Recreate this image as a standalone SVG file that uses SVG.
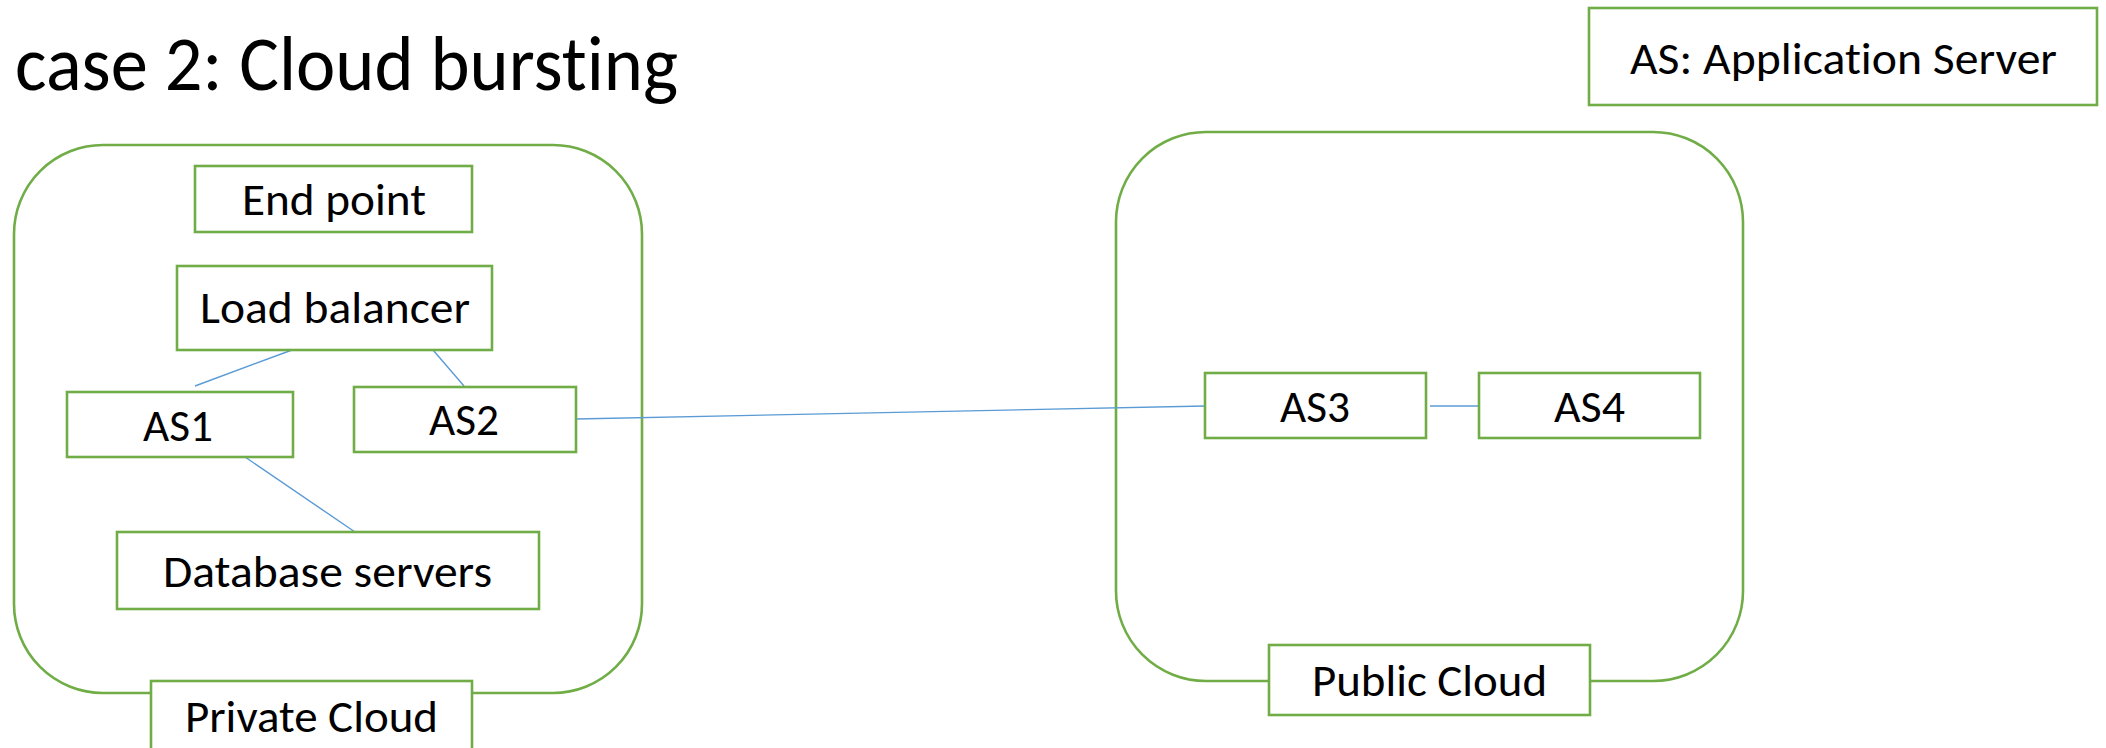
<svg xmlns="http://www.w3.org/2000/svg" width="2106" height="748" viewBox="0 0 2106 748">
  <style>
    .box { fill: #ffffff; stroke: #70ad47; stroke-width: 2.6; }
    .cloud { fill: none; stroke: #70ad47; stroke-width: 2.6; }
    .lbl { font-family: "Carlito", "Liberation Sans", Arial, sans-serif; font-size: 46px; fill: #000000; font-variant-ligatures: none; font-feature-settings: "liga" 0, "clig" 0; }
    .link { stroke: #5b9bd5; stroke-width: 1.4; fill: none; }
  </style>

  <rect width="2106" height="748" fill="#ffffff"/>

  <!-- heading -->
  <text id="title" x="15" y="90" class="lbl" style="font-size:78px" textLength="663" lengthAdjust="spacingAndGlyphs">case 2: Cloud bursting</text>

  <!-- legend -->
  <g id="legend">
    <rect class="box" x="1589" y="8" width="508" height="97"/>
    <text class="lbl" x="1630" y="74" textLength="427" lengthAdjust="spacingAndGlyphs">AS: Application Server</text>
  </g>

  <!-- cloud containers -->
  <g id="private-cloud-frame">
    <path class="cloud" d="M103,145 H553 A89,89 0 0 1 642,234 V604 A89,89 0 0 1 553,693 H103 A89,89 0 0 1 14,604 V234 A89,89 0 0 1 103,145 Z"/>
  </g>
  <g id="public-cloud-frame">
    <path class="cloud" d="M1206,132 H1653 A90,90 0 0 1 1743,222 V591 A90,90 0 0 1 1653,681 H1206 A90,90 0 0 1 1116,591 V222 A90,90 0 0 1 1206,132 Z"/>
  </g>

  <!-- connectors -->
  <g id="connectors">
    <line class="link" x1="292" y1="350" x2="195" y2="386"/>
    <line class="link" x1="433" y1="350" x2="464" y2="386"/>
    <line class="link" x1="245" y1="457" x2="355" y2="532"/>
    <line class="link" x1="576" y1="419" x2="1205" y2="406"/>
    <line class="link" x1="1430" y1="406" x2="1479" y2="406"/>
  </g>

  <!-- private cloud nodes -->
  <g id="end-point">
    <rect class="box" x="195" y="166" width="277" height="66"/>
    <text class="lbl" x="242" y="215" textLength="184" lengthAdjust="spacingAndGlyphs">End point</text>
  </g>
  <g id="load-balancer">
    <rect class="box" x="177" y="266" width="315" height="84"/>
    <text class="lbl" x="200" y="323" textLength="270" lengthAdjust="spacingAndGlyphs">Load balancer</text>
  </g>
  <g id="as1">
    <rect class="box" x="67" y="392" width="226" height="65"/>
    <text class="lbl" x="143" y="441" textLength="70" lengthAdjust="spacingAndGlyphs">AS1</text>
  </g>
  <g id="as2">
    <rect class="box" x="354" y="387" width="222" height="65"/>
    <text class="lbl" x="429" y="435" textLength="70" lengthAdjust="spacingAndGlyphs">AS2</text>
  </g>
  <g id="database-servers">
    <rect class="box" x="117" y="532" width="422" height="77"/>
    <text class="lbl" x="163" y="587" textLength="329" lengthAdjust="spacingAndGlyphs">Database servers</text>
  </g>
  <g id="private-cloud-label">
    <rect class="box" x="151" y="681" width="321" height="80"/>
    <text class="lbl" x="185" y="732" textLength="253" lengthAdjust="spacingAndGlyphs">Private Cloud</text>
  </g>

  <!-- public cloud nodes -->
  <g id="as3">
    <rect class="box" x="1205" y="373" width="221" height="65"/>
    <text class="lbl" x="1280" y="422" textLength="70" lengthAdjust="spacingAndGlyphs">AS3</text>
  </g>
  <g id="as4">
    <rect class="box" x="1479" y="373" width="221" height="65"/>
    <text class="lbl" x="1554" y="422" textLength="71" lengthAdjust="spacingAndGlyphs">AS4</text>
  </g>
  <g id="public-cloud-label">
    <rect class="box" x="1269" y="645" width="321" height="70"/>
    <text class="lbl" x="1312" y="696" textLength="235" lengthAdjust="spacingAndGlyphs">Public Cloud</text>
  </g>
</svg>
